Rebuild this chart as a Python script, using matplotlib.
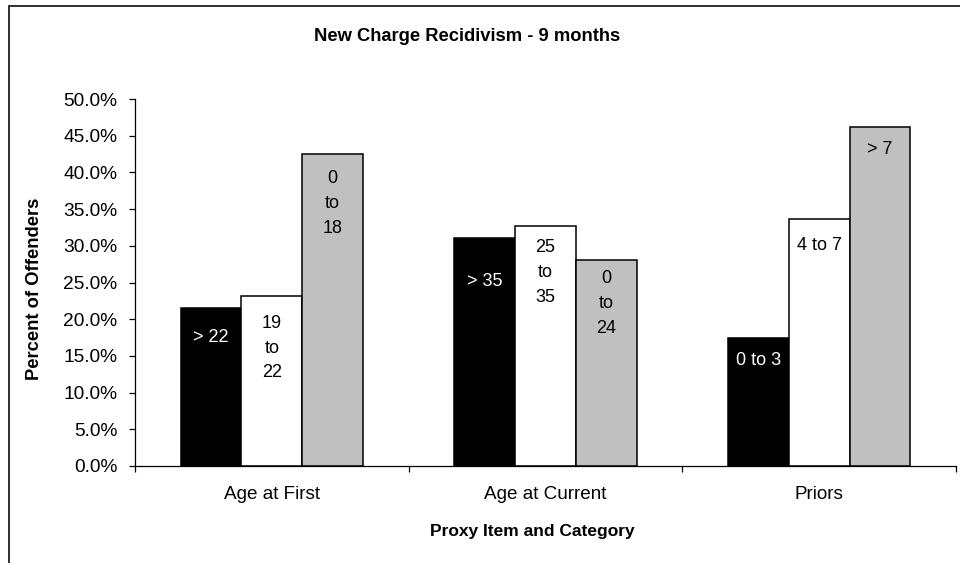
import numpy as np
import matplotlib
matplotlib.use("Agg")
import matplotlib.pyplot as plt
from matplotlib.patches import Rectangle
from matplotlib.ticker import PercentFormatter

plt.rcParams['font.family'] = ['Liberation Sans', 'DejaVu Sans']

# data
categories = ["Age at First", "Age at Current", "Priors"]
black_vals = [0.215, 0.311, 0.174]
white_vals = [0.232, 0.327, 0.337]
gray_vals = [0.425, 0.280, 0.462]
black_labels = ["> 22", "> 35", "0 to 3"]
white_labels = ["19\nto\n22", "25\nto\n35", "4 to 7"]
gray_labels = ["0\nto\n18", "0\nto\n24", "> 7"]

# label offsets below bar top (pixels), per series
black_off = [21, 35, 14]
white_off = [19, 13, 18]
gray_off = [16, 10, 14]

W, H = 960, 563
fig = plt.figure(figsize=(W / 100, H / 100), dpi=100)
ax = fig.add_axes([135 / W, 1 - 466 / H, (956 - 135) / W, (466 - 99) / H])

x = np.arange(len(categories))
w = 0.222
series = [
    (black_vals, black_labels, black_off, 'black', 'white', -w),
    (white_vals, white_labels, white_off, 'white', 'black', 0),
    (gray_vals, gray_labels, gray_off, '#C0C0C0', 'black', w),
]
for vals, labels, offs, fc, tc, dx in series:
    ax.bar(x + dx, vals, width=w, color=fc, edgecolor='black', linewidth=1.1, zorder=2)
    for xi, v, lab, off in zip(x + dx, vals, labels, offs):
        ax.annotate(lab, (xi, v), xytext=(0, -off), textcoords='offset pixels',
                    ha='center', va='top', fontsize=13, color=tc,
                    linespacing=1.6, zorder=3)

ax.set_xlim(-0.5, len(categories) - 0.5)
ax.set_ylim(0, 0.5)
ax.set_yticks(np.arange(0, 0.501, 0.05))
ax.yaxis.set_major_formatter(PercentFormatter(1.0, decimals=1))
ax.set_xticks(x)
ax.set_xticklabels(categories)
ax.set_xticks(np.arange(-0.5, len(categories)), minor=True)

ax.tick_params(axis='y', direction='out', length=4.3, width=0.9, pad=8.5, labelsize=13.8)
ax.tick_params(axis='x', which='major', length=0, pad=14.5, labelsize=13.6)
ax.tick_params(axis='x', which='minor', direction='out', length=4.3, width=0.9)

for s in ['top', 'right']:
    ax.spines[s].set_visible(False)
for s in ['left', 'bottom']:
    ax.spines[s].set_linewidth(0.9)

ax.set_ylabel("Percent of Offenders", fontsize=13.2, fontweight='bold')
ax.yaxis.set_label_coords(-0.112, 0.484)

fig.text(467 / W, 1 - 41 / H, "New Charge Recidivism - 9 months",
         ha='center', va='baseline', fontsize=13.2, fontweight='bold')
fig.text(532 / W, 1 - 536 / H, "Proxy Item and Category",
         ha='center', va='baseline', fontsize=12.5, fontweight='bold')

# chart area border (cropped on the right and bottom)
fig.patches.append(Rectangle((9 / W, -0.1), 1.2, 1.1 - 6 / H, transform=fig.transFigure,
                             fill=False, edgecolor='#202020', linewidth=1.3))

fig.savefig("out.png", dpi=100)
